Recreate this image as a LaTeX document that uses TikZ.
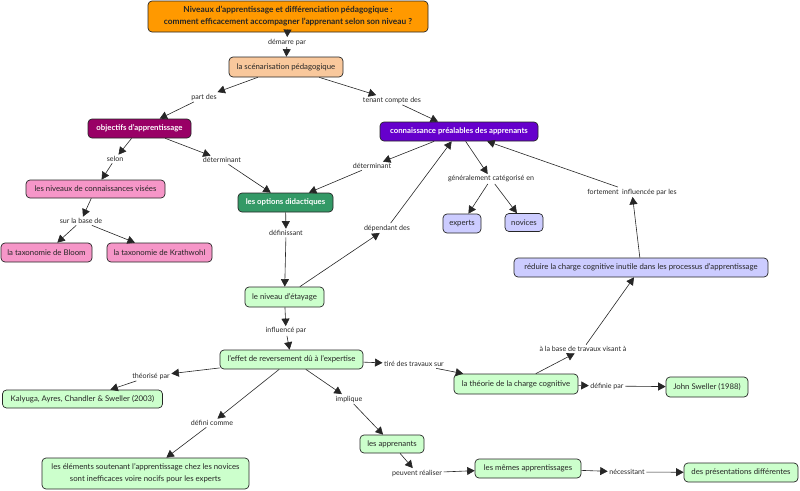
\documentclass[tikz,border=0pt]{standalone}
\usepackage{fontspec}
\setmainfont{Lato}
\usetikzlibrary{arrows.meta}
\definecolor{corange}{HTML}{FF9900}
\definecolor{cpeach}{HTML}{F9C89C}
\definecolor{cmag}{HTML}{990066}
\definecolor{cpurp}{HTML}{6600CC}
\definecolor{cpink}{HTML}{F696C8}
\definecolor{cdgreen}{HTML}{339966}
\definecolor{clav}{HTML}{CCCCFF}
\definecolor{clgreen}{HTML}{CCFFCC}
\definecolor{ctext}{HTML}{262626}
\tikzset{
  cbox/.style={draw=black!85, rounded corners=4pt, line width=0.7pt, inner sep=1pt,
    minimum height=19pt, font=\fontsize{7.8}{10}\selectfont, text=ctext, align=center},
  dark/.style={cbox, text=white, font=\fontsize{7.8}{10}\selectfont\bfseries},
  lnk/.style={inner sep=1.5pt, font=\fontsize{7.1}{8}\selectfont, text=ctext},
  arr/.style={-{Triangle[length=7.5pt,width=8pt]}, draw=black!85, line width=0.6pt}
}
\begin{document}
\begin{tikzpicture}[x=1pt,y=-1pt]
\useasboundingbox (0,0) rectangle (800,490);
% concepts
\node[cbox, fill=corange, minimum width=280pt, minimum height=31pt, font=\fontsize{8.3}{12}\selectfont\bfseries] (title) at (288,16.5)
  {Niveaux d'apprentissage et différenciation pédagogique :\\comment efficacement accompagner l'apprenant selon son niveau ?};
\node[cbox, fill=cpeach, minimum width=114pt, minimum height=20pt] (scen) at (286,67) {la scénarisation pédagogique};
\node[dark, fill=cmag, minimum width=103pt] (obj) at (139.5,128.5) {objectifs d'apprentissage};
\node[dark, fill=cpurp, minimum width=158pt] (conn) at (459,131.5) {connaissance préalables des apprenants};
\node[cbox, fill=cpink, minimum width=139pt, minimum height=18pt] (niv) at (95.5,189) {les niveaux de connaissances visées};
\node[dark, fill=cdgreen, minimum width=95pt] (opt) at (285.5,202.5) {les options didactiques};
\node[cbox, fill=cpink, minimum width=91pt] (bloom) at (46.5,252.5) {la taxonomie de Bloom};
\node[cbox, fill=cpink, minimum width=105pt] (krath) at (159.5,252.5) {la taxonomie de Krathwohl};
\node[cbox, fill=clav, minimum width=38pt] (exp) at (462,223.5) {experts};
\node[cbox, fill=clav, minimum width=38pt, minimum height=18pt] (nov) at (524,222.5) {novices};
\node[cbox, fill=clav, minimum width=254pt] (red) at (641,267.5) {réduire la charge cognitive inutile dans les processus d'apprentissage};
\node[cbox, fill=clgreen, minimum width=79pt, minimum height=20pt] (etay) at (284.5,297) {le niveau d'étayage};
\node[cbox, fill=clgreen, minimum width=143pt] (eff) at (291.5,359.5) {l'effet de reversement dû à l'expertise};
\node[cbox, fill=clgreen, minimum width=160pt, minimum height=18pt] (kal) at (82.5,399) {Kalyuga, Ayres, Chandler \& Sweller (2003)};
\node[cbox, fill=clgreen, minimum width=124pt, minimum height=20pt] (theo) at (516,384) {la théorie de la charge cognitive};
\node[cbox, fill=clgreen, minimum width=82pt, minimum height=20pt] (john) at (707,387) {John Sweller (1988)};
\node[cbox, fill=clgreen, minimum width=207pt, minimum height=31pt, font=\fontsize{7.8}{12}\selectfont] (elem) at (145.5,473.5)
  {les éléments soutenant l'apprentissage chez les novices\\sont inefficaces voire nocifs pour les experts};
\node[cbox, fill=clgreen, minimum width=64pt, minimum height=18pt] (appr) at (392,444) {les apprenants};
\node[cbox, fill=clgreen, minimum width=106pt] (mem) at (528,468.5) {les mêmes apprentissages};
\node[cbox, fill=clgreen, minimum width=114pt] (pres) at (741,472.5) {des présentations différentes};
% link labels
\node[lnk] (l1) at (287,42) {démarre par};
\node[lnk] (l2) at (204,97) {part des};
\node[lnk] (l3) at (392,100) {tenant compte des};
\node[lnk] (l4) at (115,159) {selon};
\node[lnk] (l5) at (222,160) {déterminant};
\node[lnk] (l6) at (372,166) {déterminant};
\node[lnk] (l7) at (491,179) {généralement catégorisé en};
\node[lnk] (l8) at (632,192) {fortement\ \ influencée par les};
\node[lnk] (l9) at (81,221) {sur la base de};
\node[lnk] (l10) at (286,233) {définissant};
\node[lnk] (l11) at (387,228) {dépendant des};
\node[lnk] (l12) at (286,331) {influencé par};
\node[lnk] (l13) at (414,364) {tiré des travaux sur};
\node[lnk] (l14) at (583,349) {à la base de travaux visant à};
\node[lnk] (l15) at (607,386) {définie par};
\node[lnk] (l16) at (151,376) {théorisé par};
\node[lnk] (l17) at (212,423) {défini comme};
\node[lnk] (l18) at (349,399) {implique};
\node[lnk] (l19) at (417,473) {peuvent réaliser};
\node[lnk] (l20) at (627,472) {nécessitant};
% connectors
\draw[arr] (title) -- (l1);
\draw[arr] (l1) -- (scen);
\draw[arr] (scen) -- (l2);
\draw[arr] (l2) -- (obj);
\draw[arr] (scen) -- (l3);
\draw[arr] (l3) -- (conn);
\draw[arr] (obj) -- (l4);
\draw[arr] (l4) -- (niv);
\draw[arr] (obj) -- (l5);
\draw[arr] (l5) -- (opt);
\draw[arr] (conn) -- (l6);
\draw[arr] (l6) -- (opt);
\draw[arr] (conn) -- (l7);
\draw[arr] (l7) -- (exp);
\draw[arr] (l7) -- (nov);
\draw[arr] (red) -- (l8);
\draw[arr] (l8) -- (conn);
\draw[arr] (niv) -- (l9);
\draw[arr] (l9) -- (bloom);
\draw[arr] (l9) -- (krath);
\draw[arr] (opt) -- (l10);
\draw[arr] (l10) -- (etay);
\draw[arr] (etay) -- (l11);
\draw[arr] (l11) -- (conn);
\draw[arr] (etay) -- (l12);
\draw[arr] (l12) -- (eff);
\draw[arr] (eff) -- (l13);
\draw[arr] (l13) -- (theo);
\draw[arr] (theo) -- (l14);
\draw[arr] (l14) -- (red);
\draw[arr] (theo) -- (l15);
\draw[arr] (l15) -- (john);
\draw[arr] (eff) -- (l16);
\draw[arr] (l16) -- (kal);
\draw[arr] (eff) -- (l17);
\draw[arr] (l17) -- (elem);
\draw[arr] (eff) -- (l18);
\draw[arr] (l18) -- (appr);
\draw[arr] (appr) -- (l19);
\draw[arr] (l19) -- (mem);
\draw[arr] (mem) -- (l20);
\draw[arr] (l20) -- (pres);
\end{tikzpicture}
\end{document}
